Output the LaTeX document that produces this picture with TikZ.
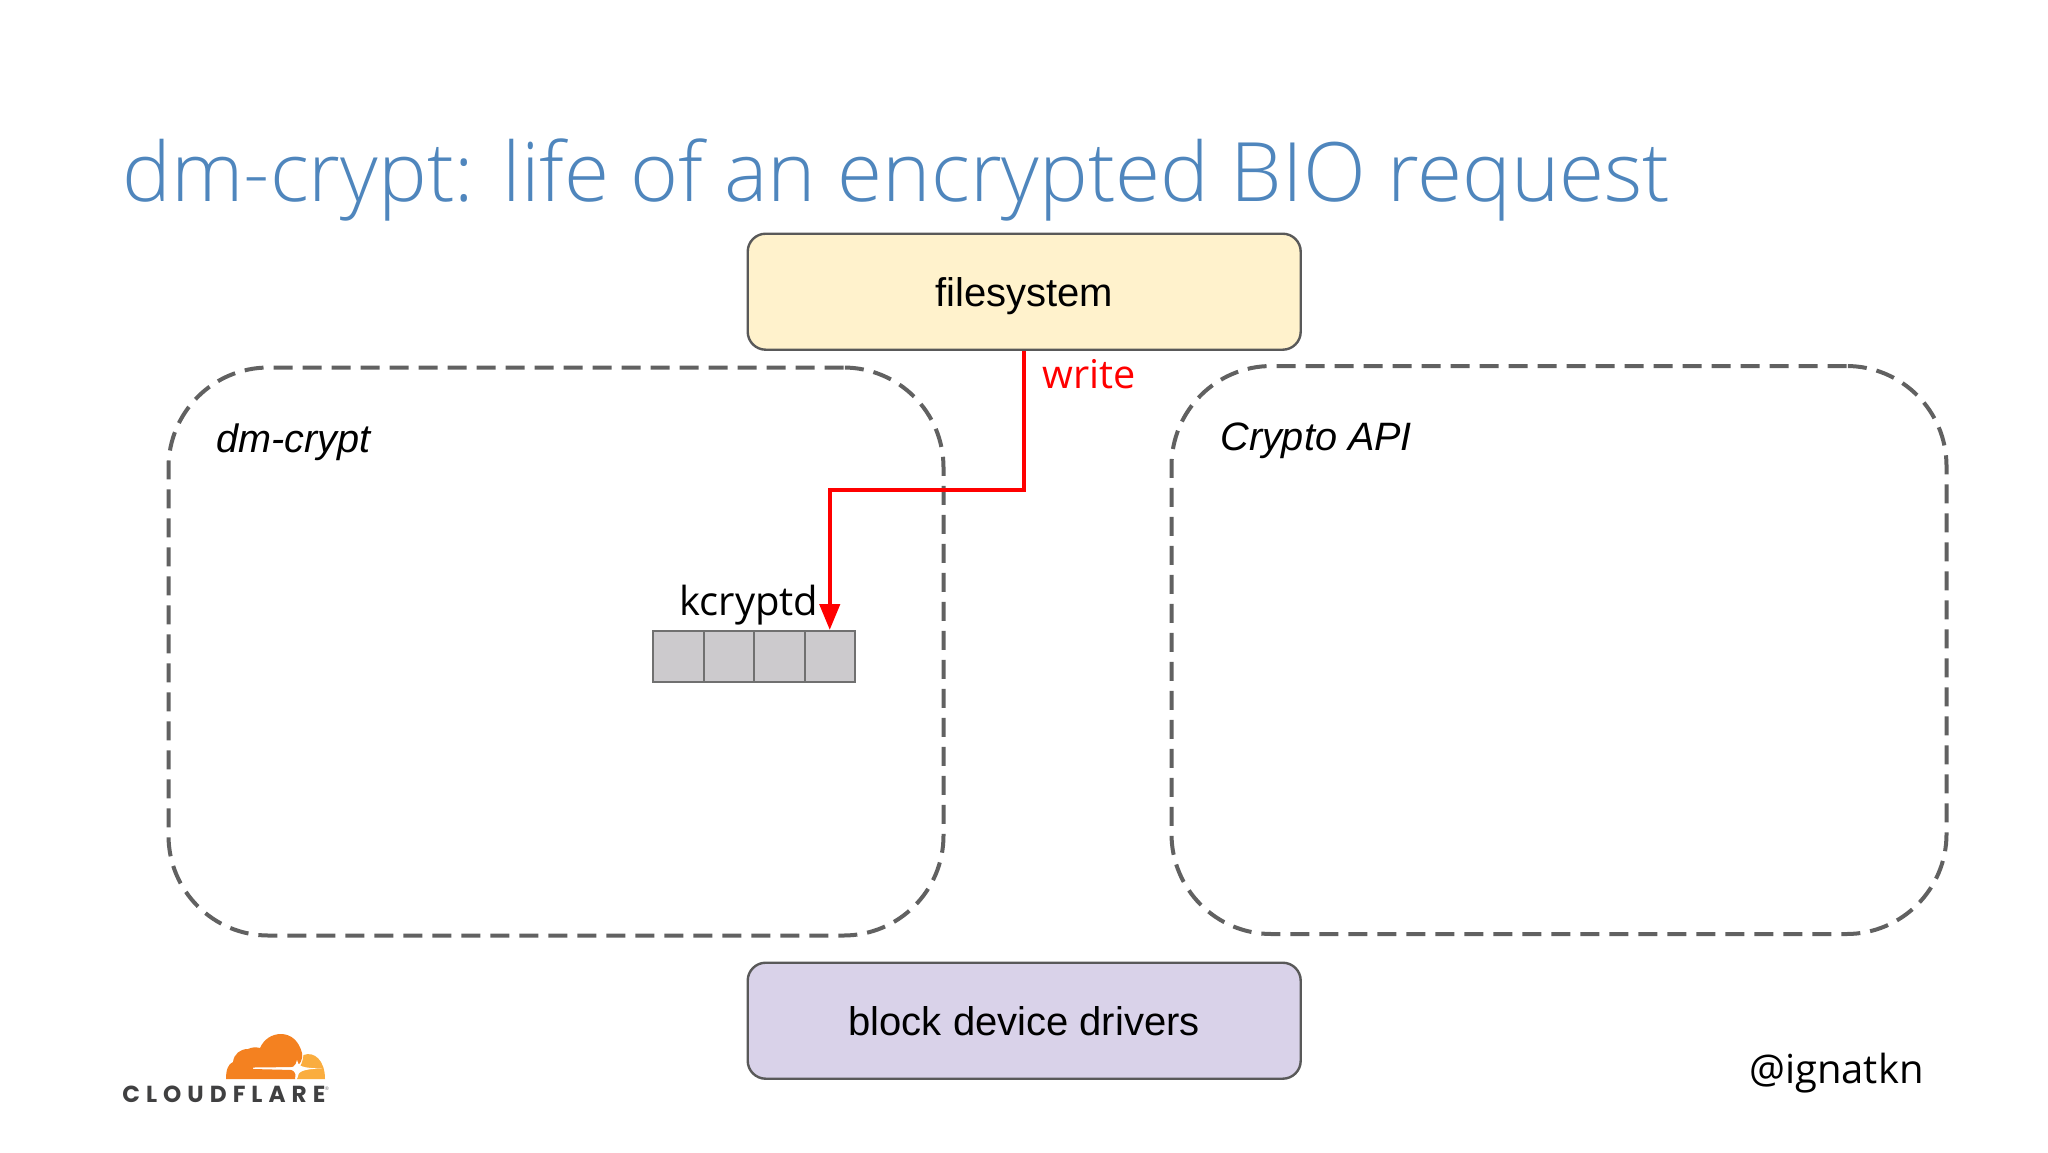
\documentclass[tikz,border=0pt]{standalone}
\usepackage{fontspec}
\usetikzlibrary{arrows.meta}
\setmainfont{Liberation Sans}
\newfontfamily\osans{Open Sans}
\newfontfamily\osanslight{Open Sans Light}
\newfontfamily\logofont[LetterSpace=26]{Poppins Bold}
\definecolor{titleblue}{HTML}{4F86BD}
\definecolor{fsfill}{HTML}{FFF2CC}
\definecolor{bdfill}{HTML}{D9D2E9}
\definecolor{edgegray}{HTML}{595959}
\definecolor{cellfill}{HTML}{CCCACD}
\definecolor{cellline}{HTML}{707070}
\definecolor{cfdark}{HTML}{F48120}
\definecolor{cflight}{HTML}{FAAD3F}
\definecolor{cftext}{HTML}{404041}
\newcommand{\boxtext}[1]{\raisebox{-7.5pt}[0pt][0pt]{#1}}
\tikzset{
  layerbox/.style={draw=edgegray,line width=1.2pt,rounded corners=9pt,minimum width=276.5pt,minimum height=58pt,anchor=north west,font=\fontsize{20}{24}\selectfont,text=black},
  groupbox/.style={draw=edgegray!95,line width=2pt,dash pattern=on 9.5pt off 5pt,rounded corners=50pt,anchor=north west},
  grouplabel/.style={font=\itshape\fontsize{19.8}{24}\selectfont,anchor=base west,text=black},
  cell/.style={draw=cellline,fill=cellfill,line width=1pt,minimum width=25.25pt,minimum height=25.5pt,inner sep=0pt,anchor=north west},
  writeflow/.style={draw=red,line width=2.2pt,-{Triangle[length=13pt,width=10pt]}}
}
\begin{document}
\begin{tikzpicture}[x=0.5pt,y=-0.5pt]
\useasboundingbox (0,0) rectangle (2048,1152);
\fill[white] (0,0) rectangle (2048,1152);
\node[anchor=base west,inner sep=0pt,text=titleblue,font=\osanslight\fontsize{41}{50}\selectfont] (title) at (122,201) {dm-crypt: life of an encrypted BIO request};
\node[groupbox,minimum width=387.5pt,minimum height=284pt] (dm) at (166.5,365.5) {};
\node[groupbox,minimum width=387.5pt,minimum height=284pt] (crypto) at (1169.5,364) {};
\node[grouplabel,inner sep=0pt] (dml) at (216,452.5) {dm-crypt};
\node[grouplabel,inner sep=0pt] (cl) at (1220,450.5) {Crypto API};
\node[layerbox,fill=fsfill] (fs) at (746.5,232.5) {\boxtext{filesystem}};
\node[layerbox,fill=bdfill] (bd) at (746.5,961.5) {\boxtext{block device drivers}};
\node[cell] (c1) at (652,630) {};
\node[cell] (c2) at (702.5,630) {};
\node[cell] (c3) at (753,630) {};
\node[cell] (c4) at (803.5,630) {};
\node[anchor=base,inner sep=0pt,font=\osans\fontsize{20}{24}\selectfont] (kc) at (749,615) {kcryptd};
\node[anchor=base west,inner sep=0pt,text=red,font=\osans\fontsize{19.8}{24}\selectfont] (wr) at (1042,388) {write};
\node[anchor=base east,inner sep=0pt,font=\osans\fontsize{20}{24}\selectfont] (ig) at (1924,1083) {@ignatkn};
\draw[writeflow] (fs.south) |- (1024,490) -| (c4.north);
% Cloudflare logo
\fill[cfdark] (226,1079) .. controls (226,1070) and (228,1064) .. (233,1062)
  .. controls (234,1054) and (240,1049) .. (248,1049)
  .. controls (252,1047) and (256,1047) .. (260,1048)
  .. controls (264,1039) and (272,1034) .. (281,1034)
  .. controls (291,1034) and (299,1041) .. (302,1053)
  .. controls (303,1060) and (300,1065) .. (295,1067)
  -- (253,1067.5) -- (253,1069) -- (293,1070)
  .. controls (296,1073) and (296,1076) .. (295,1079) -- cycle;
\fill[cflight] (303.5,1055) .. controls (314,1051) and (325,1060) .. (325,1079)
  -- (297,1079) .. controls (299,1075) and (299,1072) .. (298,1069)
  .. controls (301,1066) and (303,1061) .. (303.5,1055) -- cycle;
\fill[white] (286,1068.5) .. controls (293,1068) and (296,1066) .. (297,1060)
  .. controls (298,1066) and (301,1068) .. (322,1068.5)
  .. controls (301,1069) and (298,1072) .. (297,1078)
  .. controls (296,1072) and (293,1069) .. (286,1068.5) -- cycle;
\node[anchor=base west,inner sep=0pt,text=cftext,font=\logofont\fontsize{11.6}{13}\selectfont] (cf) at (122,1102.5) {CLOUDFLARE};
\node[anchor=center,inner sep=0pt,text=cftext!70,font=\osans\fontsize{2.5}{3}\selectfont] (reg) at (327,1089) {®};
\end{tikzpicture}
\end{document}
